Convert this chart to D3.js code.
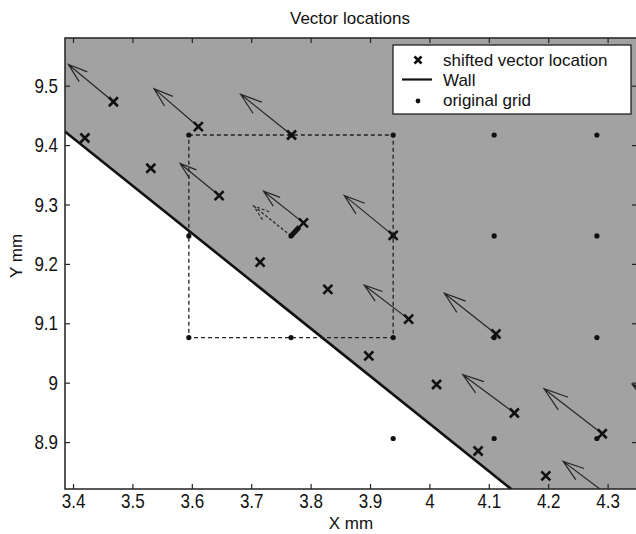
<!DOCTYPE html>
<html>
<head>
<meta charset="utf-8">
<script src="https://cdn.jsdelivr.net/npm/d3@7"></script>
<style>
  body { margin: 0; background: #fff; }
  svg { display: block; }
  text { font-family: "Liberation Sans", Arial, sans-serif; fill: #111; }
</style>
</head>
<body>
<div id="chart"></div>
<script>
// Tick labels
const xTicks = [3.4, 3.5, 3.6, 3.7, 3.8, 3.9, 4.0, 4.1, 4.2, 4.3];
const yTicks = [8.9, 9.0, 9.1, 9.2, 9.3, 9.4, 9.5];

// Wall line end points (mm)
const wallX = [3.37, 4.16];
const wallY = [9.436, 8.803];

// Shifted vector locations (crosses)
const crossX = [3.468, 3.420, 3.611, 3.768, 3.531, 3.646, 3.788, 3.715, 3.939,
                3.829, 3.965, 4.112, 3.898, 4.012, 4.143, 4.291, 4.082, 4.196];
const crossY = [9.473, 9.412, 9.431, 9.417, 9.361, 9.315, 9.269, 9.203, 9.248,
                9.157, 9.107, 9.082, 9.045, 8.997, 8.949, 8.914, 8.885, 8.843];

// Velocity vectors drawn from the shifted locations (mm)
const arrowX = [3.468, 3.611, 3.768, 3.646, 3.788, 3.939, 3.965, 4.112, 4.143, 4.291, 4.311, 4.434];
const arrowY = [9.473, 9.431, 9.417, 9.315, 9.269, 9.248, 9.107, 9.082, 8.949, 8.914, 8.803, 8.930];
const arrowU = [-0.0758, -0.0746, -0.0859, -0.0657, -0.0673, -0.0825, -0.0747, -0.0870, -0.0869, -0.0981, -0.0859, -0.0926];
const arrowV = [0.0628, 0.0640, 0.0685, 0.0539, 0.0532, 0.0673, 0.0572, 0.0685, 0.0645, 0.0758, 0.0645, 0.0673];

// Original vector at its grid point (dashed)
const origX = [3.767];
const origY = [9.247];
const origU = [-0.0630];
const origV = [0.0505];

// Short shift from grid point toward shifted location
const shiftX = [3.767, 3.781];
const shiftY = [9.247, 9.262];

// Original grid points
const gridX = [3.595, 3.767, 3.939, 4.109, 4.282,
               3.595, 3.767, 3.939, 4.109, 4.282,
               3.595, 3.767, 3.939, 4.109, 4.282,
               3.939, 4.109, 4.282];
const gridY = [9.417, 9.417, 9.417, 9.417, 9.417,
               9.247, 9.247, 9.247, 9.247, 9.247,
               9.076, 9.076, 9.076, 9.076, 9.076,
               8.906, 8.906, 8.906];

// Dashed interpolation box corners
const boxX = [3.595, 3.939];
const boxY = [9.076, 9.417];

const legendLabels = ["shifted vector location", "Wall", "original grid"];

const width = 636;
const height = 534;
const marginLeft = 65;
const marginTop = 38;
const plotRight = 637;
const plotBottom = 489;

const xScale = d3.scaleLinear().domain([3.3865, 4.3495]).range([marginLeft, plotRight]);
const yScale = d3.scaleLinear().domain([8.821, 9.5803]).range([plotBottom, marginTop]);

const svg = d3.select("#chart").append("svg")
  .attr("width", width)
  .attr("height", height);

svg.append("clipPath").attr("id", "plot-clip")
  .append("rect")
  .attr("x", marginLeft).attr("y", marginTop)
  .attr("width", plotRight - marginLeft).attr("height", plotBottom - marginTop);

const plot = svg.append("g").attr("clip-path", "url(#plot-clip)");

// Fluid region (grey) above the wall
const fluid = [
  [wallX[0], 9.7], [wallX[0], wallY[0]], [wallX[1], wallY[1]], [4.5, wallY[1]], [4.5, 9.7]
];
plot.append("path")
  .attr("d", d3.line().x(d => xScale(d[0])).y(d => yScale(d[1]))(fluid) + "Z")
  .attr("fill", "#a2a2a2");

// Wall
plot.append("line")
  .attr("x1", xScale(wallX[0])).attr("y1", yScale(wallY[0]))
  .attr("x2", xScale(wallX[1])).attr("y2", yScale(wallY[1]))
  .attr("stroke", "#111").attr("stroke-width", 2.6);

// Dashed box
plot.append("rect")
  .attr("x", xScale(boxX[0])).attr("y", yScale(boxY[1]))
  .attr("width", xScale(boxX[1]) - xScale(boxX[0]))
  .attr("height", yScale(boxY[0]) - yScale(boxY[1]))
  .attr("fill", "none").attr("stroke", "#222")
  .attr("stroke-width", 1.3).attr("stroke-dasharray", "4,3");

// quiver style arrow path
const arrowPath = (x, y, u, v) => {
  const x0 = xScale(x), y0 = yScale(y);
  const x1 = xScale(x + u), y1 = yScale(y + v);
  const du = x1 - x0, dv = y1 - y0;
  const a = 0.33, b = 0.33;
  const bx1 = x1 - a * (du + b * dv), by1 = y1 - a * (dv - b * du);
  const bx2 = x1 - a * (du - b * dv), by2 = y1 - a * (dv + b * du);
  return `M${x0},${y0}L${x1},${y1}M${bx1},${by1}L${x1},${y1}L${bx2},${by2}`;
};

plot.selectAll(".arrow")
  .data(arrowX)
  .enter()
  .append("path")
  .attr("class", "arrow")
  .attr("d", (d, i) => arrowPath(arrowX[i], arrowY[i], arrowU[i], arrowV[i]))
  .attr("fill", "none").attr("stroke", "#262626").attr("stroke-width", 1.2);

plot.selectAll(".orig-arrow")
  .data(origX)
  .enter()
  .append("path")
  .attr("class", "orig-arrow")
  .attr("d", (d, i) => arrowPath(origX[i], origY[i], origU[i], origV[i]))
  .attr("fill", "none").attr("stroke", "#262626").attr("stroke-width", 1.2)
  .attr("stroke-dasharray", "3,2");

plot.append("line")
  .attr("x1", xScale(shiftX[0])).attr("y1", yScale(shiftY[0]))
  .attr("x2", xScale(shiftX[1])).attr("y2", yScale(shiftY[1]))
  .attr("stroke", "#111").attr("stroke-width", 5);

// Grid dots
plot.selectAll(".grid-dot")
  .data(gridX)
  .enter()
  .append("circle")
  .attr("class", "grid-dot")
  .attr("cx", (d, i) => xScale(gridX[i]))
  .attr("cy", (d, i) => yScale(gridY[i]))
  .attr("r", 2.6)
  .attr("fill", "#111");

// Crosses
const crossD = "M-4.5,-4.5L4.5,4.5M-4.5,4.5L4.5,-4.5";
plot.selectAll(".cross")
  .data(crossX)
  .enter()
  .append("path")
  .attr("class", "cross")
  .attr("d", crossD)
  .attr("transform", (d, i) => `translate(${xScale(crossX[i])},${yScale(crossY[i])})`)
  .attr("stroke", "#111").attr("stroke-width", 2.6);

// Axes (ticks inside on all four sides)
const styleAxis = g => {
  g.select(".domain").remove();
  g.selectAll(".tick line").attr("stroke", "#222").attr("stroke-width", 1.2);
  g.selectAll(".tick text").attr("font-size", 17).attr("fill", "#111")
    .attr("font-family", '"Liberation Sans", Arial, sans-serif')
    .attr("transform", "scale(1,1.2)");
};

svg.append("g")
  .attr("transform", `translate(0,${plotBottom})`)
  .call(d3.axisBottom(xScale).tickValues(xTicks).tickSizeInner(-5).tickSizeOuter(0)
    .tickPadding(4).tickFormat(d3.format("~g")))
  .call(styleAxis);

svg.append("g")
  .attr("transform", `translate(0,${marginTop})`)
  .call(d3.axisTop(xScale).tickValues(xTicks).tickSizeInner(-5).tickSizeOuter(0).tickFormat(""))
  .call(styleAxis);

svg.append("g")
  .attr("transform", `translate(${marginLeft},0)`)
  .call(d3.axisLeft(yScale).tickValues(yTicks).tickSizeInner(-5).tickSizeOuter(0)
    .tickPadding(7).tickFormat(d3.format("~g")))
  .call(styleAxis);

svg.append("g")
  .attr("transform", `translate(${plotRight},0)`)
  .call(d3.axisRight(yScale).tickValues(yTicks).tickSizeInner(-5).tickSizeOuter(0).tickFormat(""))
  .call(styleAxis);

// Box frame
svg.append("rect")
  .attr("x", marginLeft).attr("y", marginTop)
  .attr("width", plotRight - marginLeft).attr("height", plotBottom - marginTop)
  .attr("fill", "none").attr("stroke", "#222").attr("stroke-width", 1.5);

// Legend
const legend = svg.append("g").attr("transform", "translate(393,45)");
legend.append("rect")
  .attr("width", 238).attr("height", 69)
  .attr("fill", "#fff").attr("stroke", "#222").attr("stroke-width", 1.3);
legend.append("path")
  .attr("d", "M-3.5,-3.5L3.5,3.5M-3.5,3.5L3.5,-3.5")
  .attr("transform", "translate(25,15)")
  .attr("stroke", "#111").attr("stroke-width", 2.6);
legend.append("line")
  .attr("x1", 9).attr("x2", 39).attr("y1", 34.5).attr("y2", 34.5)
  .attr("stroke", "#111").attr("stroke-width", 2.2);
legend.append("circle")
  .attr("cx", 25).attr("cy", 56).attr("r", 2.4).attr("fill", "#111");
legend.selectAll(".leg-text")
  .data(legendLabels)
  .enter()
  .append("text")
  .attr("class", "leg-text")
  .attr("x", 50)
  .attr("y", (d, i) => 21 + i * 20)
  .attr("font-size", 17)
  .text(d => d);

// Titles
svg.append("text")
  .attr("x", 350).attr("y", 24)
  .attr("text-anchor", "middle").attr("font-size", 17)
  .text("Vector locations");

svg.append("text")
  .attr("x", 351).attr("y", 529)
  .attr("text-anchor", "middle").attr("font-size", 17)
  .text("X mm");

svg.append("text")
  .attr("transform", "translate(22,256) rotate(-90)")
  .attr("text-anchor", "middle").attr("font-size", 17)
  .text("Y mm");
</script>
</body>
</html>
